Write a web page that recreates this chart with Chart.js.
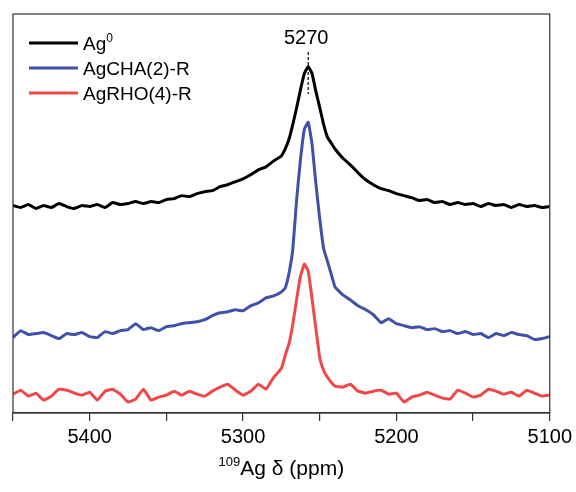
<!DOCTYPE html>
<html>
<head>
<meta charset="utf-8">
<title>109Ag NMR</title>
<script src="https://cdn.jsdelivr.net/npm/chart.js@4/dist/chart.umd.min.js"></script>
<style>
  html, body { margin: 0; padding: 0; background: #fff; }
  #wrap { width: 576px; height: 492px; }
</style>
</head>
<body>
<div id="wrap"><canvas id="nmr"></canvas></div>
<script>
// chemical shift grid (ppm), finer around the peak
const ppm = [
  5450, 5445, 5440, 5435, 5430, 5425, 5420, 5415, 5410, 5405,
  5400, 5395, 5390, 5385, 5380, 5375, 5370, 5365, 5360, 5355,
  5350, 5345, 5340, 5335, 5330, 5325, 5320, 5315, 5310, 5305,
  5300, 5295, 5290, 5285, 5280, 5275,
  5272.5, 5270, 5267.5, 5265, 5262.5, 5260, 5257.5, 5255, 5252.5, 5250, 5247.5, 5245, 5242.5,
  5240, 5235, 5230, 5225, 5220, 5215, 5210, 5205, 5200, 5195,
  5190, 5185, 5180, 5175, 5170, 5165, 5160, 5155, 5150, 5145,
  5140, 5135, 5130, 5125, 5120, 5115, 5110, 5105, 5100
];

// stacked intensities (a.u., offsets included)
const ag0 = [
  209, 207, 210, 206, 209, 207, 211, 208, 206, 209,
  208, 210, 207, 212, 210, 211, 213, 211, 213, 212,
  215, 216, 219, 218, 221, 223, 224, 228, 230, 233,
  236, 240, 245, 248, 254, 259,
  266, 276, 291, 308, 326, 342, 349, 342, 324, 308, 291, 278, 272,
  266, 257, 250, 242, 235, 230, 226, 224, 221, 219,
  217, 214, 215, 212, 213, 210, 212, 210, 211, 208,
  211, 209, 210, 207, 210, 208, 209, 207, 208
];

const agCha = [
  76, 83, 79, 80, 81, 78, 75, 80, 79, 81,
  77, 76, 82, 80, 83, 84, 90, 84, 86, 83,
  87, 88, 90, 91, 92, 94, 98, 101, 102, 104,
  103, 108, 111, 116, 118, 122,
  126, 141, 166, 216, 256, 286, 293, 271, 231, 196, 166, 153, 140,
  127, 119, 114, 108, 104, 99, 91, 95, 90, 88,
  86, 87, 84, 85, 82, 83, 80, 82, 79, 80,
  76, 80, 78, 81, 79, 78, 74, 75, 77
];

const agRho = [
  19, 23, 17, 20, 13, 17, 24, 23, 20, 18,
  21, 13, 22, 24, 19, 11, 14, 24, 13, 16,
  18, 22, 18, 22, 19, 17, 22, 26, 29, 23,
  18, 22, 29, 24, 36, 45,
  58, 70, 90, 115, 138, 150, 143, 115, 85, 56, 43, 36, 31,
  27, 26, 29, 22, 20, 22, 23, 19, 20, 11,
  16, 18, 21, 18, 15, 14, 23, 20, 16, 18,
  24, 22, 19, 21, 17, 23, 20, 17, 18
];

const seriesLabels = ['Ag\u2070', 'AgCHA(2)-R', 'AgRHO(4)-R'];
const seriesColors = ['#000000', '#3f51a8', '#f04848'];
const xTicksMajor = [5400, 5300, 5200, 5100];
const peakPpm = 5257.5;
const peakLabel = '5270';
const axisTitle = '\u00b9\u2070\u2079Ag \u03b4 (ppm)';

const FONT = '"Liberation Sans", Arial, sans-serif';
const SUP = '\u2070\u00b9\u00b2\u00b3\u2074\u2075\u2076\u2077\u2078\u2079';

function toPoints(values) {
  return values.map((v, i) => ({ x: ppm[i], y: v }));
}

// draw text where superscript digits are rendered small and raised
function drawRich(ctx, text, x, y, size, align) {
  const parts = [];
  for (const ch of text) {
    const k = SUP.indexOf(ch);
    const sup = k >= 0;
    const c = sup ? String(k) : ch;
    const last = parts[parts.length - 1];
    if (last && last.sup === sup) last.t += c; else parts.push({ t: c, sup: sup });
  }
  const supSize = Math.round(size * 0.62);
  let total = 0;
  parts.forEach(p => {
    ctx.font = (p.sup ? supSize : size) + 'px ' + FONT;
    p.w = ctx.measureText(p.t).width;
    total += p.w;
  });
  let cx = align === 'center' ? x - total / 2 : x;
  ctx.textAlign = 'left';
  ctx.textBaseline = 'alphabetic';
  parts.forEach(p => {
    ctx.font = (p.sup ? supSize : size) + 'px ' + FONT;
    ctx.fillText(p.t, cx, p.sup ? y - size * 0.42 : y);
    cx += p.w;
  });
}

const decorations = {
  id: 'decorations',
  afterDraw(chart) {
    const ctx = chart.ctx;
    const area = chart.chartArea;
    const xs = chart.scales.x;
    ctx.save();

    // frame
    ctx.strokeStyle = '#333';
    ctx.lineWidth = 1.2;
    ctx.strokeRect(area.left, area.top, area.right - area.left, area.bottom - area.top);

    // legend inside plot
    ctx.fillStyle = '#000';
    chart.data.datasets.forEach((ds, i) => {
      const y = area.top + 29 + i * 25;
      ctx.strokeStyle = ds.borderColor;
      ctx.lineWidth = 3;
      ctx.beginPath();
      ctx.moveTo(area.left + 16, y);
      ctx.lineTo(area.left + 65, y);
      ctx.stroke();
      drawRich(ctx, ds.label, area.left + 70, y + 7, 19, 'left');
    });

    // peak marker
    const px = xs.getPixelForValue(peakPpm);
    ctx.strokeStyle = '#000';
    ctx.lineWidth = 1.2;
    ctx.setLineDash([3, 2]);
    ctx.beginPath();
    ctx.moveTo(px, area.top + 38);
    ctx.lineTo(px, area.top + 80);
    ctx.stroke();
    ctx.setLineDash([]);
    drawRich(ctx, peakLabel, px - 2, area.top + 30, 20, 'center');

    // axis title
    drawRich(ctx, axisTitle, (area.left + area.right) / 2, chart.height - 17, 21, 'center');
    ctx.restore();
  }
};

const ctx = document.getElementById('nmr').getContext('2d');
new Chart(ctx, {
  type: 'line',
  data: {
    datasets: [ag0, agCha, agRho].map((vals, i) => ({
      label: seriesLabels[i],
      data: toPoints(vals),
      borderColor: seriesColors[i],
      borderWidth: 3,
      borderJoinStyle: 'round',
      pointRadius: 0,
      tension: 0.1,
      fill: false
    }))
  },
  options: {
    responsive: true,
    maintainAspectRatio: false,
    animation: false,
    layout: { padding: { top: 14, left: 13, right: 23, bottom: 39 } },
    plugins: {
      legend: { display: false },
      tooltip: { enabled: false }
    },
    scales: {
      x: {
        type: 'linear',
        reverse: true,
        min: 5100,
        max: 5450,
        grid: {
          display: true,
          drawOnChartArea: false,
          drawTicks: true,
          tickLength: 8,
          color: '#333',
          lineWidth: 1.2
        },
        border: { display: true, color: '#333', width: 1.2 },
        ticks: {
          stepSize: 50,
          padding: 4,
          color: '#000',
          font: { family: FONT, size: 20 },
          maxRotation: 0,
          autoSkip: false,
          callback: function(value) {
            return xTicksMajor.includes(value) ? String(value) : '';
          }
        }
      },
      y: {
        display: false,
        min: 0,
        max: 402
      }
    }
  },
  plugins: [decorations]
});
</script>
</body>
</html>
